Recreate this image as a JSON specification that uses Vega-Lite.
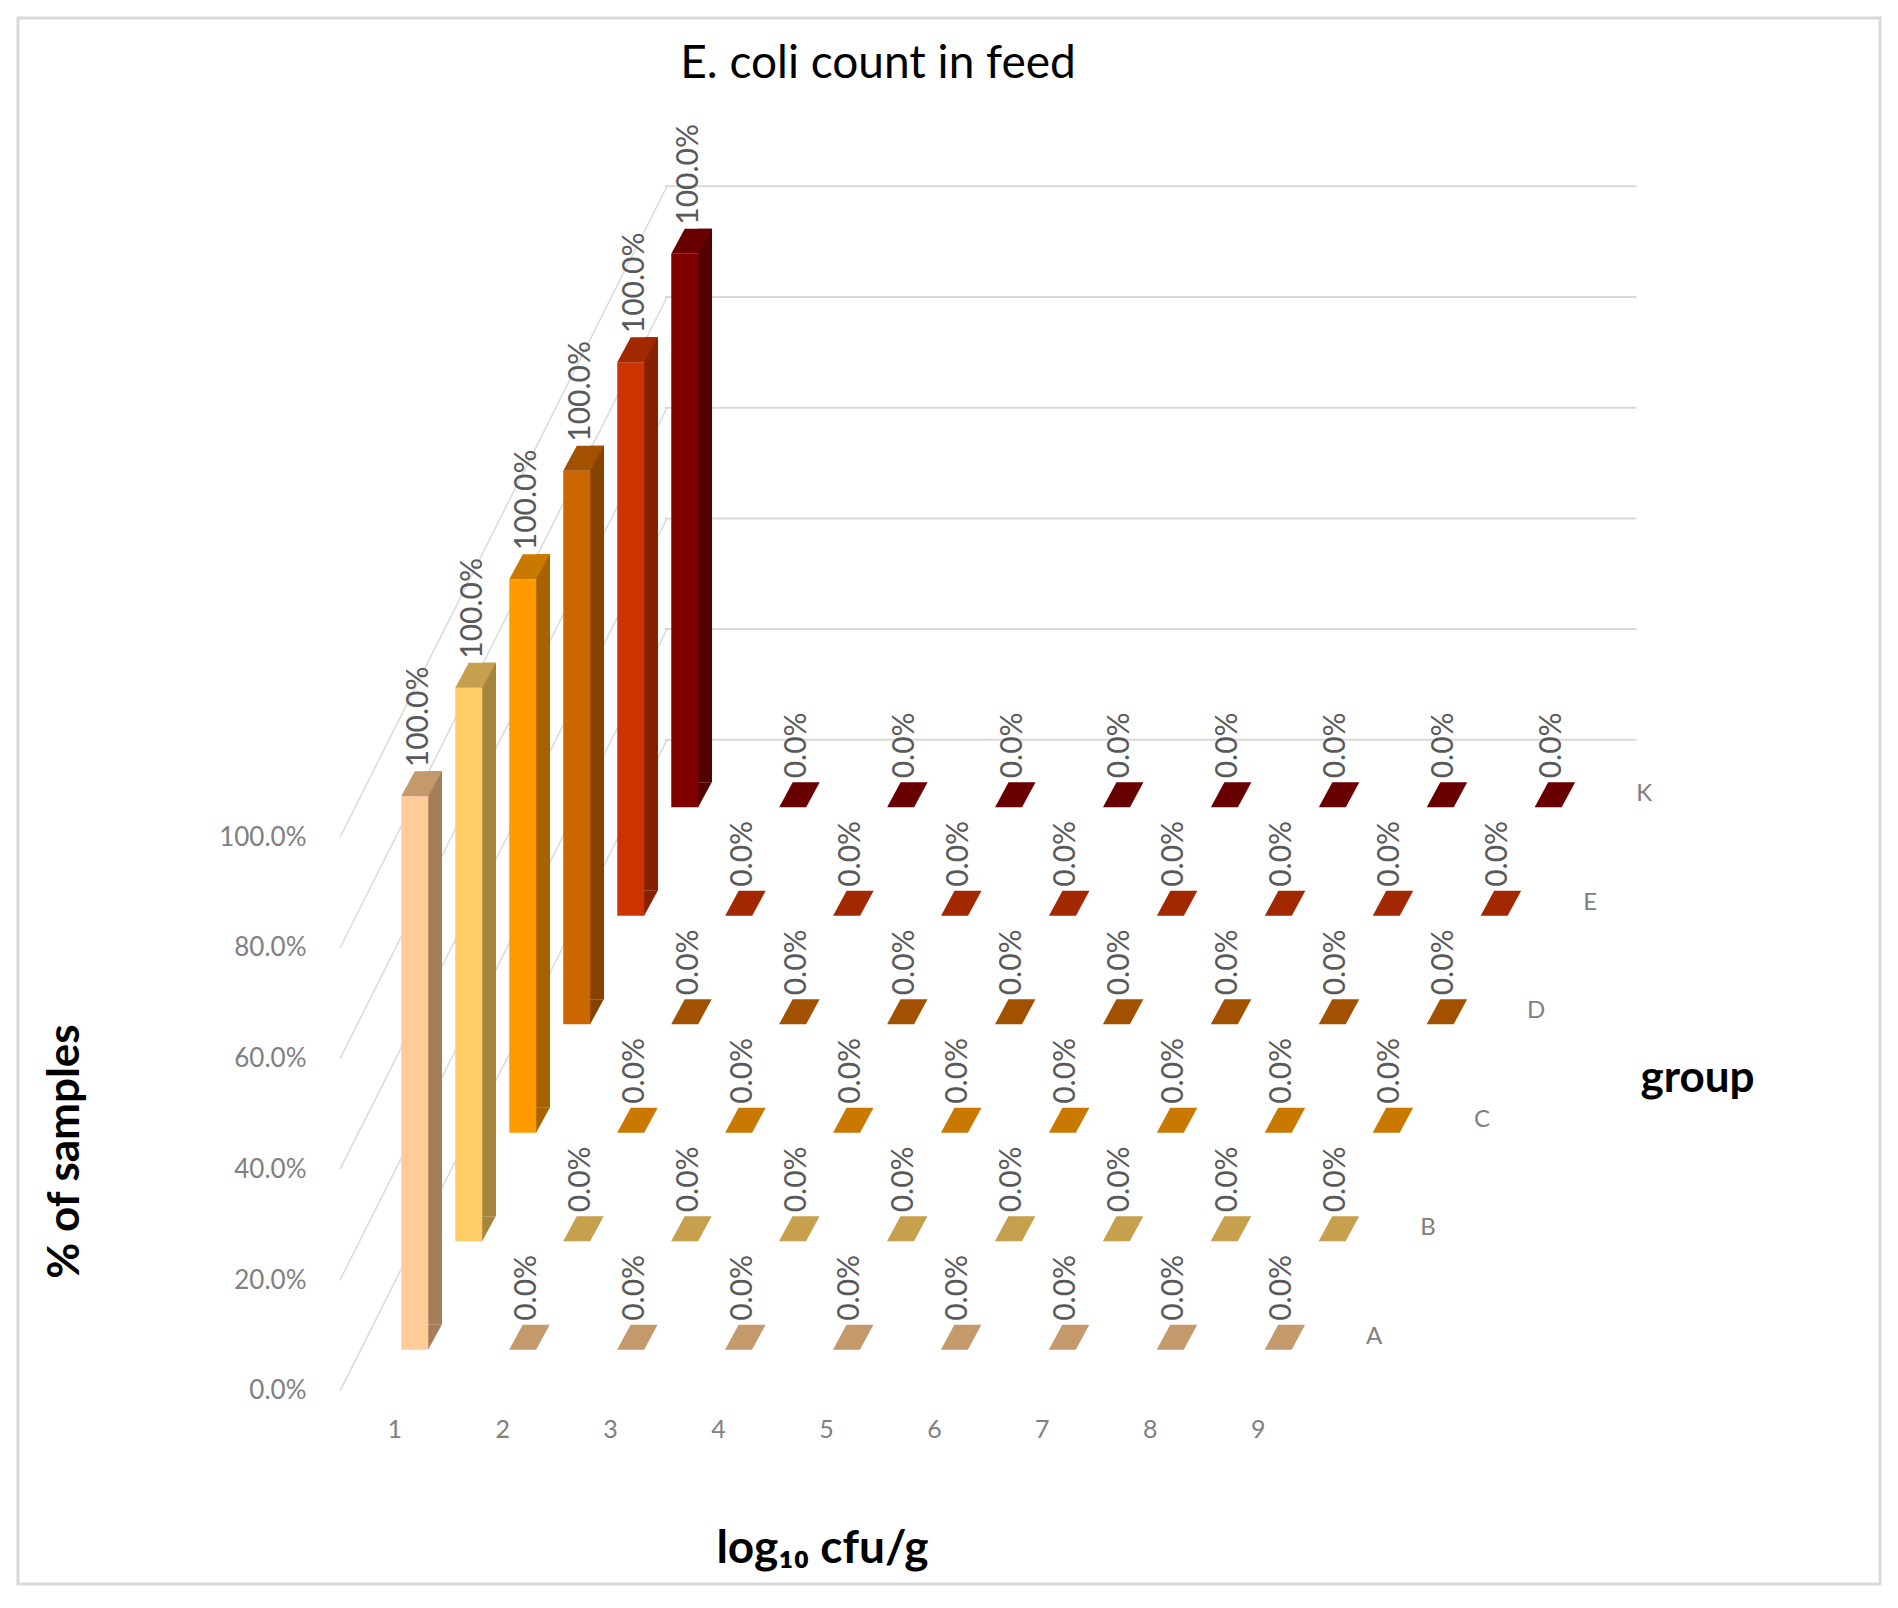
{
  "$schema": "https://vega.github.io/schema/vega-lite/v6.json",
  "width": 1862,
  "height": 1566,
  "autosize": {"type": "none"},
  "padding": {"left": 18, "top": 18, "right": 18, "bottom": 24},
  "background": "white",
  "title": {
    "text": "E. coli count in feed",
    "fontSize": 46,
    "fontWeight": "normal",
    "color": "#000000",
    "frame": "group",
    "anchor": "middle",
    "baseline": "alphabetic",
    "offset": -57,
    "dy": 49,
    "dx": -71
  },
  "datasets": {
    "feed": [
      {"group": "K", "bin": 1, "value": 1}, {"group": "K", "bin": 2, "value": 0}, {"group": "K", "bin": 3, "value": 0},
      {"group": "K", "bin": 4, "value": 0}, {"group": "K", "bin": 5, "value": 0}, {"group": "K", "bin": 6, "value": 0},
      {"group": "K", "bin": 7, "value": 0}, {"group": "K", "bin": 8, "value": 0}, {"group": "K", "bin": 9, "value": 0},
      {"group": "E", "bin": 1, "value": 1}, {"group": "E", "bin": 2, "value": 0}, {"group": "E", "bin": 3, "value": 0},
      {"group": "E", "bin": 4, "value": 0}, {"group": "E", "bin": 5, "value": 0}, {"group": "E", "bin": 6, "value": 0},
      {"group": "E", "bin": 7, "value": 0}, {"group": "E", "bin": 8, "value": 0}, {"group": "E", "bin": 9, "value": 0},
      {"group": "D", "bin": 1, "value": 1}, {"group": "D", "bin": 2, "value": 0}, {"group": "D", "bin": 3, "value": 0},
      {"group": "D", "bin": 4, "value": 0}, {"group": "D", "bin": 5, "value": 0}, {"group": "D", "bin": 6, "value": 0},
      {"group": "D", "bin": 7, "value": 0}, {"group": "D", "bin": 8, "value": 0}, {"group": "D", "bin": 9, "value": 0},
      {"group": "C", "bin": 1, "value": 1}, {"group": "C", "bin": 2, "value": 0}, {"group": "C", "bin": 3, "value": 0},
      {"group": "C", "bin": 4, "value": 0}, {"group": "C", "bin": 5, "value": 0}, {"group": "C", "bin": 6, "value": 0},
      {"group": "C", "bin": 7, "value": 0}, {"group": "C", "bin": 8, "value": 0}, {"group": "C", "bin": 9, "value": 0},
      {"group": "B", "bin": 1, "value": 1}, {"group": "B", "bin": 2, "value": 0}, {"group": "B", "bin": 3, "value": 0},
      {"group": "B", "bin": 4, "value": 0}, {"group": "B", "bin": 5, "value": 0}, {"group": "B", "bin": 6, "value": 0},
      {"group": "B", "bin": 7, "value": 0}, {"group": "B", "bin": 8, "value": 0}, {"group": "B", "bin": 9, "value": 0},
      {"group": "A", "bin": 1, "value": 1}, {"group": "A", "bin": 2, "value": 0}, {"group": "A", "bin": 3, "value": 0},
      {"group": "A", "bin": 4, "value": 0}, {"group": "A", "bin": 5, "value": 0}, {"group": "A", "bin": 6, "value": 0},
      {"group": "A", "bin": 7, "value": 0}, {"group": "A", "bin": 8, "value": 0}, {"group": "A", "bin": 9, "value": 0}
    ],
    "grid": [
      {"tick": 0, "corner": "front"}, {"tick": 0, "corner": "back"},
      {"tick": 0.2, "corner": "front"}, {"tick": 0.2, "corner": "back"},
      {"tick": 0.4, "corner": "front"}, {"tick": 0.4, "corner": "back"},
      {"tick": 0.6, "corner": "front"}, {"tick": 0.6, "corner": "back"},
      {"tick": 0.8, "corner": "front"}, {"tick": 0.8, "corner": "back"},
      {"tick": 1, "corner": "front"}, {"tick": 1, "corner": "back"}
    ]
  },
  "layer": [
    {
      "data": {"name": "grid"},
      "mark": {"type": "line", "color": "#D9D9D9", "strokeWidth": 1.5},
      "encoding": {
        "x": {"datum": 0.4977, "type": "quantitative", "scale": {"domain": [-2.44, 14.72], "nice": false, "zero": false}, "axis": null},
        "y": {"datum": {"expr": "datum.tick"}, "type": "quantitative", "scale": {"domain": [-0.349, 2.48], "nice": false, "zero": false}, "axis": null},
        "xOffset": {"field": "corner", "type": "nominal", "scale": {"type": "point", "domain": ["front", "back"], "range": [0, 327], "padding": 0}},
        "yOffset": {"field": "corner", "type": "nominal", "scale": {"type": "point", "domain": ["front", "back"], "range": [0, -651], "padding": 0}},
        "detail": {"field": "tick", "type": "nominal"}
      }
    },
    {
      "data": {"name": "grid"},
      "transform": [{"filter": "datum.corner == 'back'"}],
      "mark": {"type": "rule", "color": "#D9D9D9", "strokeWidth": 2},
      "encoding": {
        "x": {"datum": 3.507, "type": "quantitative", "scale": {"domain": [-2.44, 14.72], "nice": false, "zero": false}, "axis": null},
        "x2": {"datum": 12.51},
        "y": {
          "datum": {"expr": "datum.tick"},
          "type": "quantitative",
          "scale": {"domain": [-0.349, 2.48], "nice": false, "zero": false},
          "axis": {
            "orient": "right",
            "labels": false,
            "ticks": false,
            "domain": false,
            "grid": false,
            "title": "group",
            "titleAngle": 0,
            "titleX": -183,
            "titleY": 1060,
            "titleAlign": "center",
            "titleBaseline": "middle",
            "titleFontSize": 44,
            "titleFontWeight": "bold",
            "titleColor": "#000000"
          }
        },
        "yOffset": {"field": "corner", "type": "nominal", "scale": {"type": "point", "domain": ["back"], "range": [-651, -651], "padding": 0}}
      }
    },
    {
      "data": {"name": "feed"},
      "mark": {
        "type": "bar",
        "orient": "vertical",
        "width": 14,
        "xOffset": {"expr": "40.75 + 54 * indexof(['A','B','C','D','E','K'], datum.group)"},
        "yOffset": {"expr": "-66 - 108.5 * indexof(['A','B','C','D','E','K'], datum.group)"},
        "y2Offset": {"expr": "-66 - 108.5 * indexof(['A','B','C','D','E','K'], datum.group)"}
      },
      "encoding": {
        "x": {"field": "bin", "type": "quantitative", "scale": {"domain": [-2.44, 14.72], "nice": false, "zero": false}, "axis": null},
        "y": {"field": "value", "type": "quantitative", "stack": null, "scale": {"domain": [-0.349, 2.48], "nice": false, "zero": false}, "axis": null},
        "y2": {"datum": 0},
        "color": {"field": "group", "type": "nominal", "legend": null, "scale": {"domain": ["A", "B", "C", "D", "E", "K"], "range": ["#A67D5B", "#A6853F", "#A66300", "#854200", "#852100", "#530000"]}}
      }
    },
    {
      "data": {"name": "feed"},
      "transform": [{"filter": "datum.value > 0"}],
      "mark": {"type": "point", "filled": true, "opacity": 1, "size": 2916, "shape": "M0.49,0.01L0.49,-0.93L1,-0.93Z"},
      "encoding": {
        "x": {"datum": {"expr": "datum.bin"}, "type": "quantitative", "scale": {"domain": [-2.44, 14.72], "nice": false, "zero": false}, "axis": null},
        "y": {"datum": 0, "type": "quantitative", "scale": {"domain": [-0.349, 2.48], "nice": false, "zero": false}, "axis": null},
        "xOffset": {"field": "group", "type": "nominal", "scale": {"type": "point", "domain": ["A", "B", "C", "D", "E", "K"], "range": [20.5, 290.5], "padding": 0}},
        "yOffset": {"field": "group", "type": "nominal", "scale": {"type": "point", "domain": ["A", "B", "C", "D", "E", "K"], "range": [-41, -583.5], "padding": 0}},
        "color": {"field": "group", "type": "nominal", "legend": null, "scale": {"domain": ["A", "B", "C", "D", "E", "K"], "range": ["#A67D5B", "#A6853F", "#A66300", "#854200", "#852100", "#530000"]}}
      }
    },
    {
      "data": {"name": "feed"},
      "mark": {
        "type": "bar",
        "orient": "vertical",
        "width": 27,
        "xOffset": {"expr": "20.5 + 54 * indexof(['A','B','C','D','E','K'], datum.group)"},
        "yOffset": {"expr": "-41 - 108.5 * indexof(['A','B','C','D','E','K'], datum.group)"},
        "y2Offset": {"expr": "-41 - 108.5 * indexof(['A','B','C','D','E','K'], datum.group)"}
      },
      "encoding": {
        "x": {
          "field": "bin",
          "type": "quantitative",
          "scale": {"domain": [-2.44, 14.72], "nice": false, "zero": false},
          "axis": {
            "values": [1, 2, 3, 4, 5, 6, 7, 8, 9],
            "format": "d",
            "offset": -193,
            "labelPadding": 26,
            "labelFontSize": 25,
            "labelColor": "#808080",
            "domain": false,
            "ticks": false,
            "grid": false,
            "title": "log₁₀ cfu/g",
            "titleX": 804,
            "titleY": 157,
            "titleAlign": "center",
            "titleBaseline": "middle",
            "titleFontSize": 46,
            "titleFontWeight": "bold",
            "titleColor": "#000000"
          }
        },
        "y": {
          "field": "value",
          "type": "quantitative",
          "stack": null,
          "scale": {"domain": [-0.349, 2.48], "nice": false, "zero": false},
          "axis": {
            "values": [0, 0.2, 0.4, 0.6, 0.8, 1],
            "format": ".1%",
            "offset": -318,
            "labelPadding": 30,
            "labelFontSize": 26,
            "labelColor": "#808080",
            "domain": false,
            "ticks": false,
            "grid": false,
            "title": "% of samples",
            "titleX": -271,
            "titleY": 1133,
            "titleAngle": -90,
            "titleAlign": "center",
            "titleBaseline": "middle",
            "titleFontSize": 44,
            "titleFontWeight": "bold",
            "titleColor": "#000000"
          }
        },
        "y2": {"datum": 0},
        "color": {"field": "group", "type": "nominal", "legend": null, "scale": {"domain": ["A", "B", "C", "D", "E", "K"], "range": ["#FFCC99", "#FFCC66", "#FF9900", "#CC6600", "#CC3300", "#800000"]}}
      }
    },
    {
      "data": {"name": "feed"},
      "mark": {"type": "point", "filled": true, "opacity": 1, "size": 2916, "shape": "M-0.5,0L0.5,0L1,-0.926L0,-0.926Z"},
      "encoding": {
        "x": {"datum": {"expr": "datum.bin"}, "type": "quantitative", "scale": {"domain": [-2.44, 14.72], "nice": false, "zero": false}, "axis": null},
        "y": {"datum": {"expr": "datum.value"}, "type": "quantitative", "scale": {"domain": [-0.349, 2.48], "nice": false, "zero": false}, "axis": null},
        "xOffset": {"field": "group", "type": "nominal", "scale": {"type": "point", "domain": ["A", "B", "C", "D", "E", "K"], "range": [20.5, 290.5], "padding": 0}},
        "yOffset": {"field": "group", "type": "nominal", "scale": {"type": "point", "domain": ["A", "B", "C", "D", "E", "K"], "range": [-41, -583.5], "padding": 0}},
        "color": {"field": "group", "type": "nominal", "legend": null, "scale": {"domain": ["A", "B", "C", "D", "E", "K"], "range": ["#C49A6D", "#C6A04C", "#C97900", "#A15100", "#A12800", "#690000"]}}
      }
    },
    {
      "data": {"name": "feed"},
      "mark": {"type": "text", "angle": 270, "align": "left", "baseline": "middle", "fontSize": 30, "color": "#595959"},
      "encoding": {
        "x": {"datum": {"expr": "datum.bin"}, "type": "quantitative", "scale": {"domain": [-2.44, 14.72], "nice": false, "zero": false}, "axis": null},
        "y": {"datum": {"expr": "datum.value"}, "type": "quantitative", "scale": {"domain": [-0.349, 2.48], "nice": false, "zero": false}, "axis": null},
        "xOffset": {"field": "group", "type": "nominal", "scale": {"type": "point", "domain": ["A", "B", "C", "D", "E", "K"], "range": [24.5, 294.5], "padding": 0}},
        "yOffset": {"field": "group", "type": "nominal", "scale": {"type": "point", "domain": ["A", "B", "C", "D", "E", "K"], "range": [-70, -612.5], "padding": 0}},
        "text": {"field": "value", "type": "quantitative", "format": ".1%"}
      }
    },
    {
      "data": {"name": "feed"},
      "transform": [{"filter": "datum.bin == 1"}],
      "mark": {"type": "text", "align": "center", "baseline": "middle", "fontSize": 24, "color": "#808080"},
      "encoding": {
        "x": {"datum": 10, "type": "quantitative", "scale": {"domain": [-2.44, 14.72], "nice": false, "zero": false}, "axis": null},
        "y": {"datum": 0, "type": "quantitative", "scale": {"domain": [-0.349, 2.48], "nice": false, "zero": false}, "axis": null},
        "xOffset": {"field": "group", "type": "nominal", "scale": {"type": "point", "domain": ["A", "B", "C", "D", "E", "K"], "range": [8.5, 278.5], "padding": 0}},
        "yOffset": {"field": "group", "type": "nominal", "scale": {"type": "point", "domain": ["A", "B", "C", "D", "E", "K"], "range": [-54, -596.5], "padding": 0}},
        "text": {"field": "group", "type": "nominal"}
      }
    }
  ],
  "resolve": {
    "scale": {"xOffset": "independent", "yOffset": "independent", "color": "independent"},
    "axis": {"x": "independent", "y": "independent"}
  },
  "config": {
    "font": "Lato",
    "view": {"stroke": "#D9D9D9", "strokeWidth": 3}
  }
}
